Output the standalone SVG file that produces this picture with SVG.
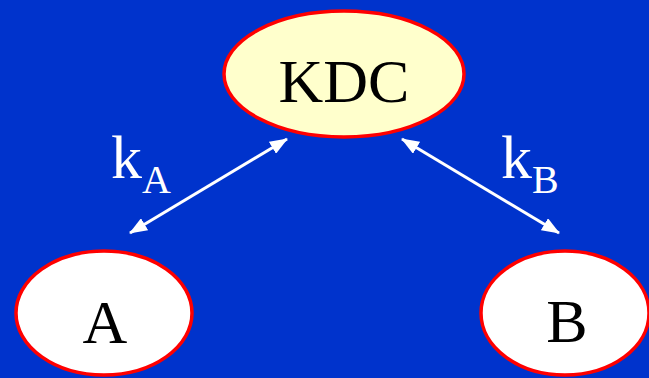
<svg xmlns="http://www.w3.org/2000/svg" width="649" height="378" viewBox="0 0 649 378">
  <style>
    .node { stroke: #FF0000; stroke-width: 3.5; }
    .lbl { font-family: "Liberation Serif", "Times New Roman", serif; fill: #000000; text-anchor: middle; }
    .key { font-family: "Liberation Serif", "Times New Roman", serif; fill: #FFFFFF; }
    .link { stroke: #FFFFFF; stroke-width: 3; fill: none; marker-start: url(#head); marker-end: url(#head); }
  </style>
  <defs>
    <marker id="head" viewBox="0 0 18 14" refX="17" refY="7" markerWidth="18" markerHeight="14" markerUnits="userSpaceOnUse" orient="auto-start-reverse">
      <path d="M0,0 L18,7 L0,14 Z" fill="#FFFFFF"/>
    </marker>
  </defs>
  <rect width="649" height="378" fill="#0033CC"/>

  <g id="connectors">
    <line class="link" x1="130" y1="233" x2="287" y2="139"/>
    <line class="link" x1="402" y1="139" x2="559" y2="233"/>
  </g>

  <g id="KDC">
    <ellipse class="node" cx="344" cy="74" rx="120" ry="63" fill="#FFFFCC"/>
    <text class="lbl" x="344" y="102" font-size="62">KDC</text>
  </g>

  <g id="A">
    <ellipse class="node" cx="104" cy="313" rx="88" ry="62" fill="#FFFFFF"/>
    <text class="lbl" x="105" y="343" font-size="62">A</text>
  </g>

  <g id="B">
    <ellipse class="node" cx="565" cy="313" rx="84" ry="62" fill="#FFFFFF"/>
    <text class="lbl" x="567" y="342" font-size="62">B</text>
  </g>

  <g id="keys">
    <text class="key" x="111" y="178" font-size="62">k<tspan font-size="40" dy="15">A</tspan></text>
    <text class="key" x="501" y="178" font-size="62">k<tspan font-size="40" dy="15">B</tspan></text>
  </g>
</svg>
